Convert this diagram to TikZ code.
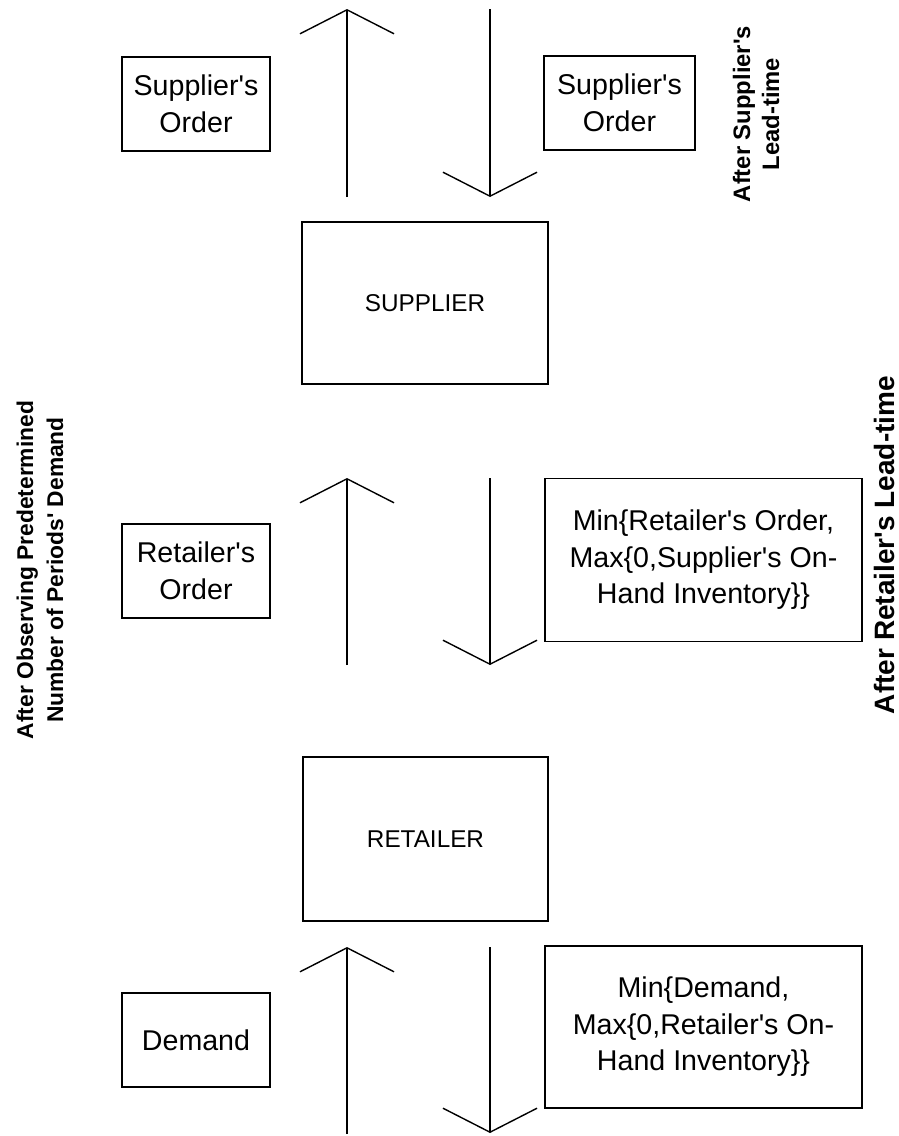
\documentclass[tikz,border=0pt]{standalone}
\usepackage{fontspec}
% plain family without TeX ligature mapping, so ' stays a straight quote
\newfontfamily\arial{Liberation Sans}
\usetikzlibrary{arrows.meta}
\tikzset{
  box/.style={draw, line width=1.4pt, inner sep=0pt, align=center,
    font=\arial\fontsize{28.6}{36.5}\selectfont},
  bigbox/.style={box, font=\arial\fontsize{24.3}{28}\selectfont},
  sidelabel/.style={rotate=90, align=center, inner sep=0pt,
    font=\arial\bfseries\fontsize{22.8}{30}\selectfont},
  flow/.style={line width=1.4pt, -{Straight Barb[length=24pt,width=94pt,line join=miter]}}
}
\begin{document}
\begin{tikzpicture}[x=1pt,y=-1pt]
  \useasboundingbox (0,0) rectangle (899,1136);

  % order and shipment boxes
  \node[box, minimum width=148pt, minimum height=94pt] (sordL) at (196,104) {Supplier's\\Order};
  \node[box, minimum width=151pt, minimum height=94pt] (sordR) at (619.5,103) {Supplier's\\Order};
  \node[bigbox, minimum width=246pt, minimum height=162pt] (supplier) at (425,303) {SUPPLIER};
  \node[box, minimum width=148pt, minimum height=94pt] (rordL) at (196,571) {Retailer's\\Order};
  \node[box, minimum width=317pt, minimum height=163pt] (shipS) at (703.5,560)
    {Min\{Retailer's Order,\\Max\{0,Supplier's On-\\Hand Inventory\}\}};
  \node[bigbox, minimum width=245pt, minimum height=164pt] (retailer) at (425.5,839) {RETAILER};
  \node[box, minimum width=148pt, minimum height=94pt] (demand) at (196,1040) {Demand};
  \node[box, minimum width=317pt, minimum height=162pt] (shipR) at (703.5,1027)
    {Min\{Demand,\\Max\{0,Retailer's On-\\Hand Inventory\}\}};

  % timing labels
  \node[sidelabel, font=\arial\bfseries\fontsize{23.8}{29}\selectfont] (tsup) at (756,114) {After Supplier's\\Lead-time};
  \node[sidelabel] (tobs) at (40,570) {After Observing Predetermined\\Number of Periods' Demand};
  \node[sidelabel, font=\arial\bfseries\fontsize{28}{30}\selectfont] (tret) at (884,545) {After Retailer's Lead-time};

  % arrow end points
  \coordinate (u1s) at (347,197); \coordinate (u1e) at (347,9);
  \coordinate (d1s) at (490,9);   \coordinate (d1e) at (490,197);
  \coordinate (u2s) at (347,665); \coordinate (u2e) at (347,478);
  \coordinate (d2s) at (490,478); \coordinate (d2e) at (490,665);
  \coordinate (u3s) at (347,1134); \coordinate (u3e) at (347,947);
  \coordinate (d3s) at (490,947); \coordinate (d3e) at (490,1133);

  % flows
  \draw[flow] (u1s) -- (u1e);
  \draw[flow] (d1s) -- (d1e);
  \draw[flow] (u2s) -- (u2e);
  \draw[flow] (d2s) -- (d2e);
  \draw[flow] (u3s) -- (u3e);
  \draw[flow] (d3s) -- (d3e);
\end{tikzpicture}
\end{document}
